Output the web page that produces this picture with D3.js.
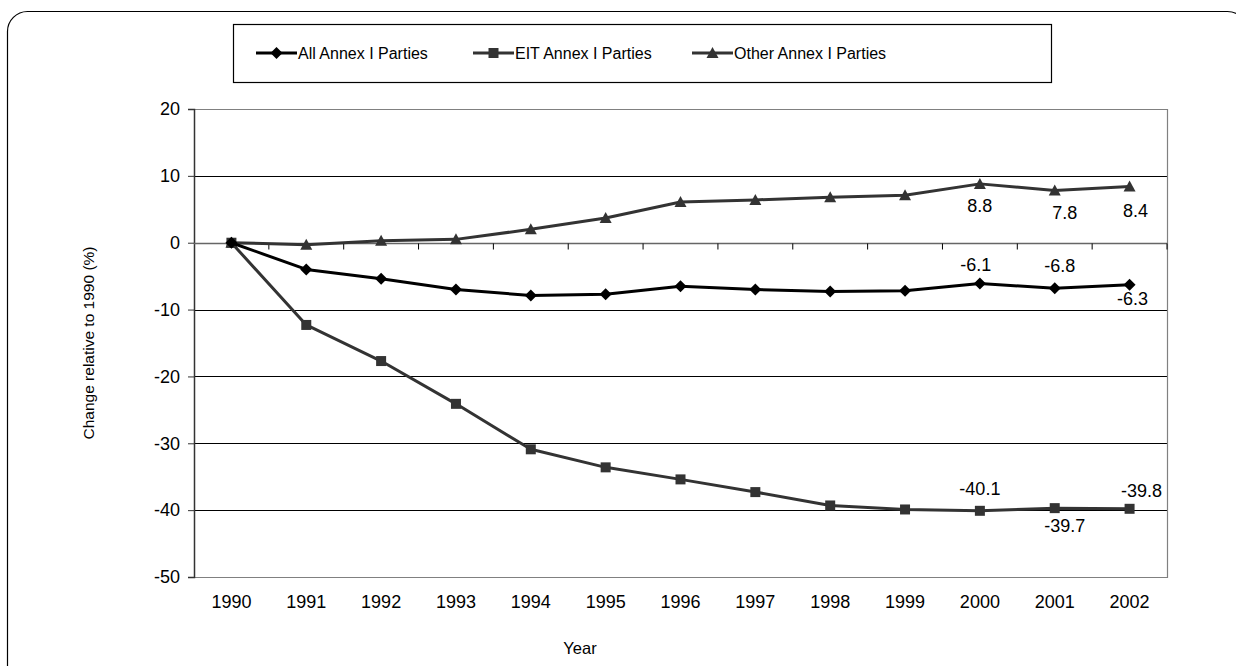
<!DOCTYPE html>
<html>
<head>
<meta charset="utf-8">
<script src="https://cdn.jsdelivr.net/npm/d3@7"></script>
<style>
  html, body { margin: 0; padding: 0; background: #fff; }
  svg { display: block; font-family: "Liberation Sans", Arial, sans-serif; }
</style>
</head>
<body>
<svg id="chart" width="1236" height="666"></svg>
<script>
const years = ["1990","1991","1992","1993","1994","1995","1996","1997","1998","1999","2000","2001","2002"];
const allAnnex = [0, -4.0, -5.4, -7.0, -7.9, -7.7, -6.5, -7.0, -7.3, -7.2, -6.1, -6.8, -6.3];
const eitAnnex = [0, -12.3, -17.7, -24.1, -30.9, -33.6, -35.4, -37.3, -39.3, -39.9, -40.1, -39.7, -39.8];
const otherAnnex = [0, -0.3, 0.3, 0.5, 2.0, 3.7, 6.1, 6.4, 6.8, 7.1, 8.8, 7.8, 8.4];
const yTicks = [20, 10, 0, -10, -20, -30, -40, -50];
const seriesNames = ["All Annex I Parties", "EIT Annex I Parties", "Other Annex I Parties"];
// data labels: series index, year index, text
const labelSeries = [2, 2, 2, 0, 0, 0, 1, 1, 1];
const labelYear = [10, 11, 12, 10, 11, 12, 10, 11, 12];
const labelText = ["8.8", "7.8", "8.4", "-6.1", "-6.8", "-6.3", "-40.1", "-39.7", "-39.8"];

// layout offsets for labels (dx, dy from point to label centre)
const labelOffsets = [[0, 22], [10, 22], [6, 23.5], [-4, -18.5], [5, -22.5], [3, 13.5], [0, -22.5], [10, 17], [12, -18]];

const svg = d3.select("#chart");
const L = 194, R = 1167, T = 109, B = 577;
const FONT = "Liberation Sans, Arial, sans-serif";

// outer rounded border
svg.append("rect").attr("x", 7.5).attr("y", 11.5).attr("width", 1240).attr("height", 700)
  .attr("rx", 20).attr("fill", "none").attr("stroke", "#000").attr("stroke-width", 1.2);

const x = d3.scaleBand().domain(years).range([L, R]).padding(0);
const y = d3.scaleLinear().domain([-50, 20]).range([B, T]);

// gridlines
svg.append("g").selectAll("line").data(yTicks.filter(v => v !== 0 && v !== -50 && v !== 20)).join("line")
  .attr("x1", L).attr("x2", R).attr("y1", d => Math.round(y(d)) + 0.5).attr("y2", d => Math.round(y(d)) + 0.5)
  .attr("stroke", "#000").attr("stroke-width", 1);

// plot border (top, right, bottom)
svg.append("path")
  .attr("d", `M${L},${Math.round(y(20))+0.5}H${R+0.5}V${Math.round(y(-50))+0.5}H${L}`)
  .attr("fill", "none").attr("stroke", "#808080").attr("stroke-width", 1.2);

// y axis
const yAxis = d3.axisLeft(y).tickValues(yTicks).tickSize(6).tickPadding(8).tickFormat(d => String(d));
const gy = svg.append("g").attr("transform", `translate(${L},0)`).call(yAxis);
gy.attr("font-family", FONT).attr("font-size", 18);
gy.select(".domain").attr("stroke", "#333").attr("stroke-width", 1.5);
gy.selectAll(".tick line").attr("stroke", "#333");
gy.selectAll("text").attr("fill", "#000");

// x axis at zero with ticks at category boundaries
const y0 = Math.round(y(0)) + 0.5;
svg.append("line").attr("x1", L).attr("x2", R).attr("y1", y0).attr("y2", y0)
  .attr("stroke", "#666").attr("stroke-width", 1.5);
svg.append("g").selectAll("line").data(years).join("line")
  .attr("x1", d => x(d) + x.bandwidth()).attr("x2", d => x(d) + x.bandwidth())
  .attr("y1", y0).attr("y2", y0 + 6).attr("stroke", "#000").attr("stroke-width", 1);

// x labels at bottom
const xAxis = d3.axisBottom(x).tickSize(0).tickPadding(18);
const gx = svg.append("g").attr("transform", `translate(0,${B})`).call(xAxis);
gx.attr("font-family", FONT).attr("font-size", 18);
gx.select(".domain").remove();
gx.selectAll("text").attr("fill", "#000");

// axis titles
svg.append("text").attr("x", 580).attr("y", 654).attr("text-anchor", "middle")
  .attr("font-size", 16.5).text("Year");
svg.append("text").attr("transform", `translate(94,${(T + B) / 2}) rotate(-90)`).attr("text-anchor", "middle")
  .attr("font-size", 15.5).text("Change relative to 1990 (%)");

const cx = d => x(d) + x.bandwidth() / 2;
const line = d3.line().x((d, i) => cx(years[i])).y(d => y(d));

const series = [
  { vals: allAnnex, color: "#000", marker: "diamond" },
  { vals: eitAnnex, color: "#333", marker: "square" },
  { vals: otherAnnex, color: "#333", marker: "triangle" }
];

function markerPath(type) {
  if (type === "diamond") return "M0,-6L6,0L0,6L-6,0Z";
  if (type === "square") return "M-5,-5H5V5H-5Z";
  return "M0,-6L6,5H-6Z";
}

[1, 2, 0].forEach(si => {
  const s = series[si];
  svg.append("path").datum(s.vals).attr("d", line).attr("fill", "none")
    .attr("stroke", s.color).attr("stroke-width", 3).attr("stroke-linejoin", "round");
  svg.append("g").selectAll("path").data(s.vals).join("path")
    .attr("transform", (d, i) => `translate(${cx(years[i])},${y(d)})`)
    .attr("d", markerPath(s.marker)).attr("fill", s.color);
});

// data labels
labelText.forEach((txt, k) => {
  const si = labelSeries[k], yi = labelYear[k];
  const v = series[si].vals[yi];
  const [dx, dy] = labelOffsets[k];
  svg.append("text").attr("x", cx(years[yi]) + dx)
    .attr("y", y(v) + dy + 6.5)
    .attr("text-anchor", "middle").attr("font-size", 18).attr("fill", "#000").text(txt);
});

// legend
const lg = svg.append("g");
lg.append("rect").attr("x", 233.5).attr("y", 24.5).attr("width", 818).attr("height", 58)
  .attr("fill", "#fff").attr("stroke", "#000").attr("stroke-width", 1.2);
const legendX = [256, 473, 692];
seriesNames.forEach((name, i) => {
  const g = lg.append("g").attr("transform", `translate(${legendX[i]},53)`);
  g.append("line").attr("x1", 0).attr("x2", 41).attr("y1", 0).attr("y2", 0)
    .attr("stroke", series[i].color).attr("stroke-width", 3);
  g.append("path").attr("transform", "translate(20.5,0)").attr("d", markerPath(series[i].marker))
    .attr("fill", series[i].color);
  g.append("text").attr("x", 42).attr("y", 6).attr("font-size", 16).attr("fill", "#000").text(name);
});
</script>
</body>
</html>
